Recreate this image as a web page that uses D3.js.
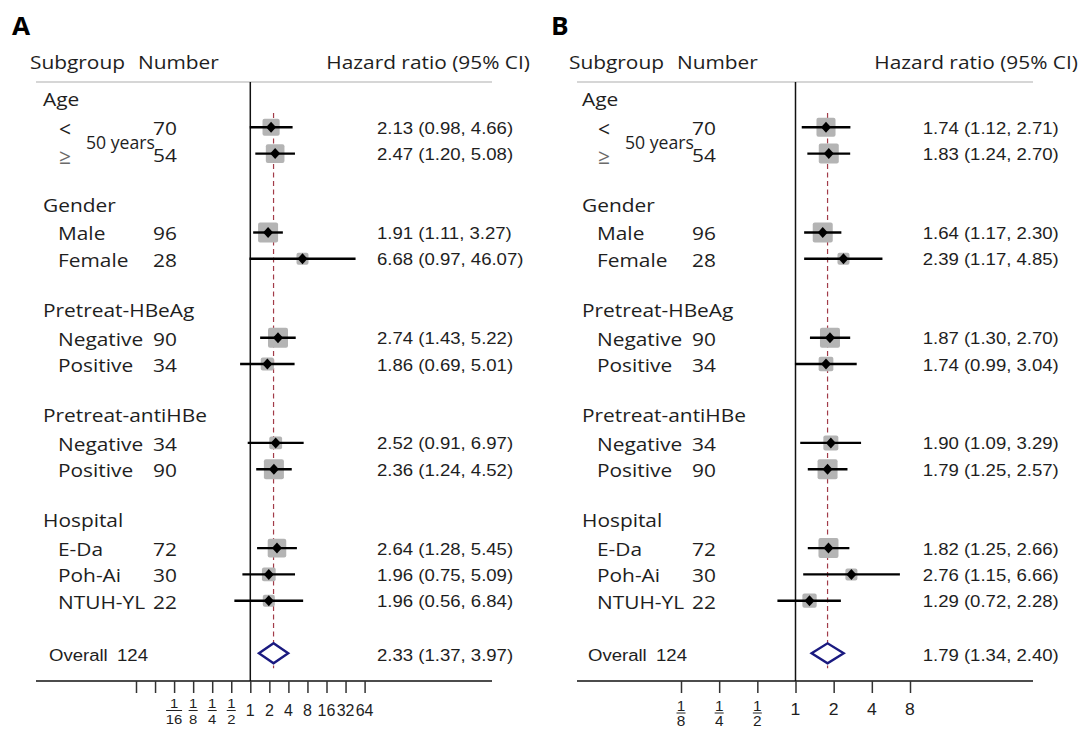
<!DOCTYPE html>
<html><head><meta charset="utf-8">
<script src="https://cdn.jsdelivr.net/npm/d3@7"></script>
<style>
html,body{margin:0;padding:0;background:#fff;}
svg{display:block;}
</style></head>
<body>
<svg id="chart" width="1085" height="729"></svg>
<script>
// ---------------- DATA ----------------
const groups = ["Age", "Gender", "Pretreat-HBeAg", "Pretreat-antiHBe", "Hospital"];
const subgroupLabels = ["<", "≥", "Male", "Female", "Negative", "Positive", "Negative", "Positive", "E-Da", "Poh-Ai", "NTUH-YL"];
const subgroupGroup = [0, 0, 1, 1, 2, 2, 3, 3, 4, 4, 4];
const ageCutLabel = "50 years";
const numbers = [70, 54, 96, 28, 90, 34, 34, 90, 72, 30, 22];

const hrA   = [2.13, 2.47, 1.91, 6.68, 2.74, 1.86, 2.52, 2.36, 2.64, 1.96, 1.96];
const lowA  = [0.98, 1.20, 1.11, 0.97, 1.43, 0.69, 0.91, 1.24, 1.28, 0.75, 0.56];
const highA = [4.66, 5.08, 3.27, 46.07, 5.22, 5.01, 6.97, 4.52, 5.45, 5.09, 6.84];

const hrB   = [1.74, 1.83, 1.64, 2.39, 1.87, 1.74, 1.90, 1.79, 1.82, 2.76, 1.29];
const lowB  = [1.12, 1.24, 1.17, 1.17, 1.30, 0.99, 1.09, 1.25, 1.25, 1.15, 0.72];
const highB = [2.71, 2.70, 2.30, 4.85, 2.70, 3.04, 3.29, 2.57, 2.66, 6.66, 2.28];

const overallLabel = "Overall";
const overallN = 124;
const overallA = [2.33, 1.37, 3.97];
const overallB = [1.79, 1.34, 2.40];

const tickValuesA = [1/64, 1/32, 1/16, 1/8, 1/4, 1/2, 1, 2, 4, 8, 16, 32, 64];
const tickLabelsA = ["", "", "1/16", "1/8", "1/4", "1/2", "1", "2", "4", "8", "16", "32", "64"];
const tickValuesB = [1/8, 1/4, 1/2, 1, 2, 4, 8];
const tickLabelsB = ["1/8", "1/4", "1/2", "1", "2", "4", "8"];

const headerSubgroup = "Subgroup", headerNumber = "Number", headerHR = "Hazard ratio (95% CI)";
const panelLetters = ["A", "B"];

// ---------------- LAYOUT ----------------
const SX = 1.16; // horizontal text stretch of the reference
const LABEL_FONT = "'Open Sans', 'Noto Sans', sans-serif";
const NUM_FONT = "'Liberation Sans', Arial, sans-serif";
const TXT = "#1e1e1e";

const svg = d3.select("#chart");

// row slots: header, items, blank per group, then overall
const slots = [];
groups.forEach((g, gi) => {
  slots.push({type: "header", gi});
  subgroupGroup.forEach((sg, i) => { if (sg === gi) slots.push({type: "item", i}); });
  slots.push({type: "blank"});
});
slots.push({type: "overall"});
const yRow = d3.scaleLinear().domain([0, slots.length - 1]).range([101, 653.3]);
const itemSlot = {};
slots.forEach((s, k) => { if (s.type === "item") itemSlot[s.i] = k; });
const overallSlot = slots.length - 1;

function txt(g, x, y, s, o = {}) {
  return g.append("text")
    .attr("transform", `translate(${x},${y}) scale(${o.sx || SX},1)`)
    .attr("text-anchor", o.anchor || "start")
    .attr("dominant-baseline", "central")
    .attr("font-family", o.font || LABEL_FONT)
    .attr("font-size", o.size || 18)
    .attr("font-weight", o.weight || "normal")
    .attr("fill", o.fill || TXT)
    .text(s);
}

const panels = [
  {letter: panelLetters[0], ox: 0, ciX: 377, hazX: 530, rule: [36, 492],
   domain: [1/64, 64], range: [136, 364.6], hr: hrA, lo: lowA, hi: highA, ov: overallA,
   ticks: tickValuesA, tickLabels: tickLabelsA, tickFont: 16, tickSX: 1.0, fracFont: 13.5,
   fracY: [703, 710.5, 719], intY: 710},
  {letter: panelLetters[1], ox: 539, ciX: 922.7, hazX: 1078, rule: [577, 1033],
   domain: [1/8, 8], range: [681, 910], hr: hrB, lo: lowB, hi: highB, ov: overallB,
   ticks: tickValuesB, tickLabels: tickLabelsB, tickFont: 16, tickSX: 1.1, fracFont: 14,
   fracY: [706, 713, 721.5], intY: 710}
];

const axisY = 681, ruleY = 82;

panels.forEach(P => {
  const g = svg.append("g");
  const x = d3.scaleLog().base(2).domain(P.domain).range(P.range);
  const ox = P.ox;

  // panel letter
  txt(g, 12 + ox, 26, P.letter, {size: 25, weight: "bold", font: "'Open Sans', sans-serif", fill: "#000", sx: 1.05});

  // headers
  txt(g, 30 + ox, 62, headerSubgroup);
  txt(g, 138 + ox, 62, headerNumber);
  txt(g, P.hazX, 62, headerHR, {anchor: "end"});

  // rule
  g.append("line").attr("x1", P.rule[0]).attr("x2", P.rule[1]).attr("y1", ruleY).attr("y2", ruleY)
    .attr("stroke", "#c8c8c8").attr("stroke-width", 1.6);

  // vertical line at HR = 1
  g.append("line").attr("x1", x(1)).attr("x2", x(1)).attr("y1", ruleY).attr("y2", axisY)
    .attr("stroke", "#111").attr("stroke-width", 1.5);

  // dashed reference line at overall HR
  g.append("line").attr("x1", x(P.ov[0])).attr("x2", x(P.ov[0]))
    .attr("y1", yRow(0) + 12).attr("y2", yRow(overallSlot) + 15)
    .attr("stroke", "#a23b48").attr("stroke-width", 1.2).attr("stroke-dasharray", "5,3.5");

  // group headers
  slots.forEach((s, k) => {
    if (s.type === "header") txt(g, 43 + ox, yRow(k) - 1.5, groups[s.gi]);
  });
  // subgroup labels + numbers
  subgroupLabels.forEach((lab, i) => {
    const y = yRow(itemSlot[i]);
    if (subgroupGroup[i] === 0) {
      txt(g, 59 + ox, y + 2, lab, {fill: i === 0 ? TXT : "#6a6a6a", size: 21, sx: 1});
    } else {
      txt(g, 58 + ox, y + 1, lab);
    }
    txt(g, 153 + ox, y + 1, numbers[i]);
  });
  const ageRows = subgroupLabels.map((d, i) => i).filter(i => subgroupGroup[i] === 0);
  txt(g, 86 + ox, (yRow(itemSlot[ageRows[0]]) + yRow(itemSlot[ageRows[ageRows.length - 1]])) / 2 + 1, ageCutLabel, {sx: 0.98});

  // weights -> box size (inverse-variance, relative to panel max)
  const w = P.hi.map((h, i) => { const se = (Math.log(h) - Math.log(P.lo[i])) / (2 * 1.96); return 1 / (se * se); });
  const wmax = d3.max(w);
  const boxSize = d3.scaleLinear().domain([0.5, 0.8]).range([12, 20]).clamp(true);

  P.hr.forEach((v, i) => {
    const y = yRow(itemSlot[i]);
    const s = boxSize(Math.sqrt(w[i] / wmax));
    g.append("rect").attr("x", x(v) - s / 2).attr("y", y - s / 2).attr("width", s).attr("height", s)
      .attr("rx", 2).attr("fill", "#b4b4b4");
    g.append("line").attr("x1", x(P.lo[i])).attr("x2", x(P.hi[i])).attr("y1", y).attr("y2", y)
      .attr("stroke", "#000").attr("stroke-width", 2.4);
    g.append("path").attr("d", `M${x(v) - 5},${y}L${x(v)},${y - 5.5}L${x(v) + 5},${y}L${x(v)},${y + 5.5}Z`)
      .attr("fill", "#000");
    txt(g, P.ciX, y + 1, `${v.toFixed(2)} (${P.lo[i].toFixed(2)}, ${P.hi[i].toFixed(2)})`, {font: NUM_FONT, size: 16});
  });

  // overall
  const yo = yRow(overallSlot);
  g.append("path").attr("d", `M${x(P.ov[1])},${yo}L${x(P.ov[0])},${yo - 10}L${x(P.ov[2])},${yo}L${x(P.ov[0])},${yo + 10}Z`)
    .attr("fill", "#fff").attr("stroke", "#1a1a80").attr("stroke-width", 2.4);
  txt(g, P.ciX, yo + 2, `${P.ov[0].toFixed(2)} (${P.ov[1].toFixed(2)}, ${P.ov[2].toFixed(2)})`, {font: NUM_FONT, size: 16});
  txt(g, 49 + ox, yo + 2, overallLabel, {font: NUM_FONT, size: 16});
  txt(g, 117 + ox, yo + 2, overallN, {font: NUM_FONT, size: 16});

  // axis
  g.append("line").attr("x1", P.rule[0]).attr("x2", P.rule[1]).attr("y1", axisY).attr("y2", axisY)
    .attr("stroke", "#111").attr("stroke-width", 1.5);
  const ax = g.append("g").attr("transform", `translate(0,${axisY})`)
    .call(d3.axisBottom(x).tickValues(P.ticks).tickSize(12).tickFormat(() => ""));
  ax.select(".domain").remove();
  ax.selectAll(".tick line").attr("stroke", "#333").attr("stroke-width", 1.5);

  P.ticks.forEach((t, i) => {
    const lab = P.tickLabels[i];
    if (!lab) return;
    const xt = x(t);
    if (lab.includes("/")) {
      const [num, den] = lab.split("/");
      txt(g, xt, P.fracY[0], num, {font: NUM_FONT, size: P.fracFont, anchor: "middle", sx: 1.1});
      const bw = den.length > 1 ? 16 : 9;
      g.append("line").attr("x1", xt - bw / 2).attr("x2", xt + bw / 2).attr("y1", P.fracY[1]).attr("y2", P.fracY[1])
        .attr("stroke", "#222").attr("stroke-width", 1);
      txt(g, xt, P.fracY[2], den, {font: NUM_FONT, size: P.fracFont, anchor: "middle", sx: 1.1});
    } else {
      txt(g, xt, P.intY, lab, {font: NUM_FONT, size: P.tickFont, anchor: "middle", sx: P.tickSX});
    }
  });
});
</script>
</body></html>
